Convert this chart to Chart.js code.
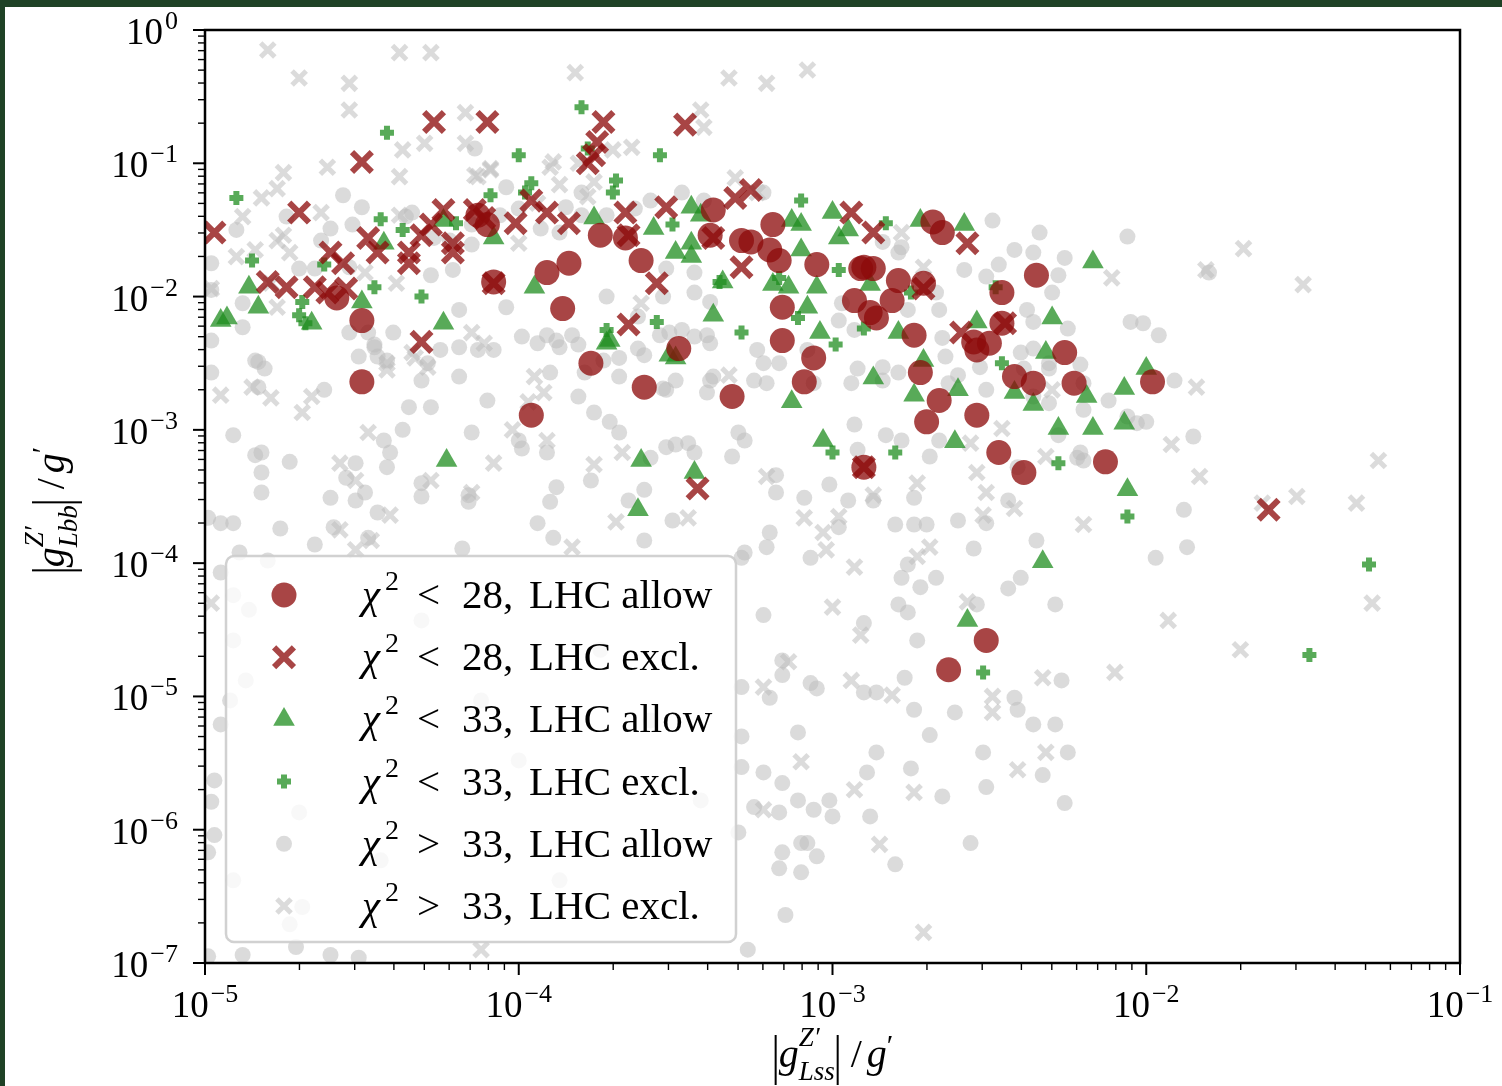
<!DOCTYPE html>
<html lang="en">
<head>
    <meta charset="UTF-8">
    <title>Scan couplings Z'</title>
    <script src="https://cdn.jsdelivr.net/npm/chart.js"></script>
    <style>
        html, body { margin: 0; padding: 0; background: #fff; }
        #contenitore { width: 1502px; height: 1086px; position: relative; }
    </style>
</head>
<body>
<div id="contenitore"><canvas id="grafico"></canvas></div>
<script>
// punti: [log10 |g_Lss|/g', log10 |g_Lbb|/g']
const chi28Allow = [
    [-4.58,-2.01],[-4.50,-2.18],[-4.50,-2.64],[-4.10,-1.46],[-4.13,-1.39],[-4.08,-1.89],[-3.91,-1.82],[-3.84,-1.75],
    [-3.86,-2.09],[-3.77,-2.50],[-3.96,-2.89],[-3.74,-1.54],[-3.66,-1.56],[-3.61,-1.73],[-3.49,-2.39],[-3.60,-2.68],
    [-3.38,-1.35],[-3.39,-1.54],[-3.29,-1.58],[-3.26,-1.59],[-3.19,-1.46],[-3.20,-1.65],[-3.17,-1.73],[-3.16,-2.08],
    [-3.16,-2.33],[-3.09,-2.64],[-3.06,-2.46],[-3.05,-1.76],[-3.32,-2.75],[-2.93,-2.03],[-2.91,-1.79],[-2.90,-1.78],
    [-2.87,-1.79],[-2.88,-2.12],[-2.86,-2.16],[-2.81,-2.03],[-2.79,-1.88],[-2.71,-1.90],[-2.68,-1.44],[-2.65,-1.52],
    [-2.74,-2.29],[-2.72,-2.57],[-2.66,-2.78],[-2.70,-2.94],[-2.90,-3.28],[-2.55,-2.34],[-2.50,-2.35],[-2.54,-2.40],
    [-2.54,-2.89],[-2.46,-1.97],[-2.46,-2.20],[-2.42,-2.60],[-2.36,-2.65],[-2.35,-1.84],[-2.26,-2.42],[-2.23,-2.65],
    [-2.47,-3.17],[-2.39,-3.32],[-2.13,-3.24],[-1.98,-2.64],[-2.63,-4.80],[-2.51,-4.58]
];
const chi28Excl = [
    [-4.97,-1.52],[-4.80,-1.89],[-4.74,-1.93],[-4.70,-1.37],[-4.65,-1.93],[-4.61,-1.97],[-4.60,-1.67],[-4.56,-1.75],
    [-4.55,-1.94],[-4.50,-0.99],[-4.48,-1.56],[-4.45,-1.67],[-4.35,-1.67],[-4.35,-1.75],[-4.31,-1.54],[-4.31,-2.34],
    [-4.28,-1.46],[-4.27,-0.69],[-4.24,-1.35],[-4.21,-1.60],[-4.21,-1.67],[-4.14,-1.35],[-4.10,-0.69],[-4.11,-1.41],
    [-4.08,-1.90],[-4.01,-1.45],[-3.96,-1.28],[-3.91,-1.37],[-3.84,-1.45],[-3.78,-1.00],[-3.76,-0.94],[-3.75,-0.84],
    [-3.73,-0.69],[-3.66,-1.37],[-3.65,-2.21],[-3.65,-1.54],[-3.56,-1.90],[-3.53,-1.33],[-3.47,-0.71],[-3.43,-3.44],
    [-3.38,-1.56],[-3.31,-1.26],[-3.29,-1.78],[-3.26,-1.20],[-2.94,-1.37],[-2.87,-1.52],[-2.90,-3.28],[-2.71,-1.94],
    [-2.59,-2.27],[-2.57,-1.60],[-2.45,-2.20],[-1.61,-3.60]
];
const chi33Allow = [
    [-4.95,-2.18],[-4.93,-2.16],[-4.86,-1.93],[-4.83,-2.08],[-4.66,-2.20],[-4.50,-2.04],[-4.43,-1.60],[-4.24,-1.43],
    [-4.24,-2.20],[-4.23,-3.23],[-4.08,-1.56],[-3.95,-1.93],[-3.76,-1.41],[-3.71,-2.33],[-3.72,-2.35],[-3.62,-3.60],
    [-3.61,-3.23],[-3.57,-1.49],[-3.52,-2.44],[-3.50,-1.67],[-3.50,-2.46],[-3.45,-1.33],[-3.42,-1.39],[-3.45,-1.60],
    [-3.45,-1.70],[-3.44,-3.32],[-3.38,-2.14],[-3.35,-1.89],[-3.19,-1.91],[-3.14,-1.93],[-3.13,-1.43],[-3.10,-1.46],
    [-3.10,-1.65],[-3.08,-2.08],[-3.05,-1.93],[-3.04,-2.27],[-3.03,-3.08],[-3.13,-2.79],[-3.00,-1.37],[-2.98,-1.56],
    [-2.95,-1.50],[-2.88,-1.91],[-2.87,-2.61],[-2.79,-2.27],[-2.74,-2.74],[-2.72,-1.43],[-2.71,-2.48],[-2.61,-3.09],
    [-2.60,-2.70],[-2.58,-1.46],[-2.54,-2.19],[-2.42,-2.72],[-2.36,-2.81],[-2.33,-3.99],[-2.32,-2.42],[-2.30,-2.16],
    [-2.28,-2.99],[-2.19,-2.75],[-2.17,-1.74],[-2.17,-2.99],[-2.07,-2.95],[-2.07,-2.69],[-2.06,-3.45],[-2.00,-2.54],
    [-2.57,-4.43]
];
const chi33Excl = [
    [-4.90,-1.26],[-4.85,-1.73],[-4.70,-2.14],[-4.69,-2.04],[-4.68,-2.20],[-4.62,-1.76],[-4.46,-1.93],[-4.44,-1.42],
    [-4.42,-0.77],[-4.37,-1.50],[-4.31,-2.00],[-4.20,-1.45],[-4.09,-1.24],[-4.00,-0.94],[-3.98,-1.22],[-3.96,-1.15],
    [-3.80,-0.58],[-3.78,-0.89],[-3.72,-2.25],[-3.70,-1.22],[-3.69,-1.13],[-3.56,-2.19],[-3.55,-0.94],[-3.51,-1.46],
    [-3.36,-1.89],[-3.29,-2.27],[-3.17,-1.86],[-3.11,-2.16],[-3.10,-1.28],[-3.00,-3.17],[-2.99,-2.36],[-2.98,-1.80],
    [-2.90,-2.24],[-2.83,-1.45],[-2.80,-3.17],[-2.75,-1.97],[-2.48,-1.93],[-2.46,-2.50],[-2.28,-3.25],[-2.06,-3.65],
    [-2.52,-4.82],[-1.29,-4.01],[-1.48,-4.69]
];
const chi33OverAllow = [
    [-4.56,-1.24],[-4.50,-1.33],[-4.14,-0.89],[-4.74,-1.40],[-4.34,-1.37],[-3.48,-1.22],[-3.22,-1.22],[-3.41,-1.28],
    [-4.04,-1.18],[-4.98,-1.75],[-4.90,-1.50],[-4.98,-1.95],[-4.88,-2.05],[-4.88,-2.23],[-4.98,-2.33],[-4.84,-2.48],
    [-4.81,-2.54],[-4.98,-2.57],[-4.83,-2.68],[-4.70,-1.79],[-4.65,-1.79],[-4.63,-1.58],[-4.54,-1.78],[-4.40,-2.27],
    [-4.51,-2.45],[-4.46,-2.38],[-4.42,-2.48],[-4.54,-2.27],[-4.28,-1.84],[-4.21,-1.80],[-4.29,-2.50],[-4.31,-2.63],
    [-4.19,-2.10],[-4.15,-1.61],[-4.19,-2.38],[-4.13,-2.40],[-4.08,-2.40],[-4.04,-2.08],[-3.99,-2.30],[-3.94,-2.35],
    [-3.88,-2.33],[-3.87,-2.38],[-3.93,-1.49],[-3.85,-1.33],[-3.80,-1.39],[-3.80,-1.22],[-4.36,-1.40],[-4.27,-1.56],
    [-4.19,-2.60],[-3.90,-2.57],[-4.83,-2.49],[-4.62,-2.70],[-4.91,-3.04],[-4.84,-3.19],[-4.82,-3.17],[-4.82,-3.32],
    [-4.73,-3.24],[-4.82,-3.47],[-4.60,-3.51],[-4.52,-3.25],[-4.55,-3.36],[-4.52,-3.53],[-4.49,-3.47],[-4.45,-3.62],
    [-4.99,-3.66],[-4.95,-3.70],[-4.91,-3.70],[-4.76,-3.74],[-4.65,-3.86],[-4.59,-3.73],[-4.48,-3.81],[-4.89,-3.92],
    [-4.80,-3.98],[-4.45,-2.45],[-4.46,-2.36],[-4.48,-2.27],[-4.43,-3.08],[-4.41,-3.17],[-4.42,-3.28],[-4.37,-3.00],
    [-4.35,-2.83],[-4.28,-2.83],[-4.25,-2.40],[-4.10,-2.78],[-4.15,-3.02],[-4.00,-3.08],[-3.99,-3.14],[-3.91,-3.17],
    [-3.88,-3.43],[-3.90,-3.54],[-3.94,-3.70],[-4.31,-3.40],[-4.31,-3.50],[-4.16,-3.49],[-4.16,-3.54],[-4.18,-3.89],
    [-3.89,-3.81],[-3.81,-2.75],[-3.79,-2.57],[-3.76,-2.87],[-3.71,-2.94],[-3.68,-3.02],[-3.60,-3.83],[-3.60,-3.45],
    [-3.77,-3.38],[-3.65,-3.53],[-3.58,-3.21],[-3.53,-3.13],[-3.50,-3.11],[-3.46,-3.10],[-3.44,-3.17],[-3.54,-2.69],
    [-3.50,-2.63],[-3.39,-2.63],[-3.40,-2.72],[-3.32,-3.20],[-3.30,-3.02],[-3.28,-3.08],[-3.51,-3.68],[-3.83,-2.29],
    [-3.81,-2.36],[-3.73,-2.48],[-3.68,-2.60],[-3.62,-2.39],[-3.60,-2.44],[-3.55,-2.29],[-3.52,-2.27],[-3.44,-2.30],
    [-3.40,-2.29],[-3.28,-3.92],[-3.91,-2.29],[-3.18,-3.34],[-3.18,-3.47],[-3.09,-3.51],[-3.01,-3.41],[-2.95,-3.53],
    [-2.87,-3.53],[-2.74,-3.51],[-2.80,-3.71],[-2.74,-3.71],[-2.70,-3.71],[-2.60,-3.68],[-2.51,-3.70],[-2.44,-3.53],
    [-2.22,-3.21],[-2.20,-3.23],[-2.35,-3.83],[-2.55,-3.89],[-3.20,-3.77],[-3.21,-3.88],[-3.29,-3.96],[-3.07,-3.96],
    [-2.98,-3.73],[-2.76,-4.01],[-2.78,-4.11],[-2.72,-4.18],[-2.67,-4.11],[-2.44,-4.19],[-2.40,-4.11],[-2.79,-4.31],
    [-2.76,-4.37],[-2.54,-4.31],[-2.29,-4.31],[-2.90,-4.45],[-2.73,-4.58],[-3.22,-4.39],[-3.16,-4.73],[-3.16,-4.84],
    [-3.07,-4.90],[-3.05,-4.94],[-3.29,-4.93],[-3.20,-5.01],[-2.90,-4.97],[-2.86,-4.97],[-2.77,-4.86],[-2.74,-5.10],
    [-2.61,-5.12],[-2.42,-5.01],[-2.41,-5.10],[-2.27,-4.88],[-2.36,-5.21],[-2.29,-5.21],[-2.25,-5.42],[-2.52,-5.42],
    [-2.33,-5.59],[-2.51,-5.68],[-2.26,-5.80],[-2.69,-5.29],[-2.86,-5.42],[-2.89,-5.57],[-2.75,-5.54],[-3.11,-5.27],
    [-3.29,-5.30],[-3.22,-5.57],[-3.16,-5.65],[-3.29,-5.53],[-2.65,-5.75],[-3.11,-5.78],[-3.01,-5.78],[-3.06,-5.85],
    [-3.00,-5.90],[-2.88,-5.90],[-3.25,-5.83],[-3.17,-5.87],[-3.30,-6.02],[-3.10,-6.10],[-3.08,-6.10],[-3.16,-6.17],
    [-3.05,-6.20],[-3.17,-6.29],[-3.10,-6.32],[-2.80,-6.26],[-2.56,-6.10],[-3.15,-6.64],[-3.27,-6.90],[-2.06,-1.55],
    [-2.26,-1.71],[-2.28,-1.84],[-2.30,-1.97],[-2.25,-2.24],[-2.05,-2.19],[-2.01,-2.20],[-1.96,-2.29],[-1.80,-1.82],
    [-2.21,-2.51],[-1.91,-2.63],[-2.12,-2.78],[-2.20,-2.85],[-2.00,-2.94],[-2.06,-2.90],[-1.85,-3.05],[-1.88,-3.60],
    [-1.87,-3.88],[-1.97,-3.96],[-3.72,-1.39],[-3.72,-2.00],[-3.44,-1.82],[-3.44,-1.97],[-3.54,-2.00],[-3.53,-1.79],
    [-3.39,-2.04],[-3.62,-2.15],[-3.48,-2.25],[-3.39,-2.35],[-3.68,-2.46],[-3.38,-2.60],[-3.53,-2.70],[-3.24,-2.40],
    [-3.22,-2.50],[-3.17,-2.50],[-3.08,-2.40],[-2.98,-2.18],[-2.97,-2.05],[-2.93,-2.25],[-2.84,-2.53],[-2.79,-2.57],
    [-2.78,-1.63],[-2.84,-1.59],[-2.67,-1.97],[-2.66,-2.10],[-2.49,-1.43],[-2.58,-1.80],[-2.51,-1.85],[-2.42,-1.65],
    [-2.36,-1.67],[-2.34,-1.52],[-2.47,-1.76],[-2.38,-2.10],[-2.36,-2.19],[-2.36,-2.39],[-2.31,-2.54],[-2.39,-2.54],
    [-2.53,-2.53],[-2.64,-2.45],[-2.63,-2.65],[-2.51,-2.70],[-3.25,-2.63],[-3.21,-2.65],[-3.06,-2.65],[-2.94,-2.65],
    [-2.84,-2.63],[-2.79,-1.67],[-2.65,-2.31],[-2.76,-2.10],[-2.92,-2.54],[-2.60,-2.59],[-2.40,-2.42],[-2.31,-2.50],
    [-2.20,-2.65],[-2.31,-2.80],[-2.21,-3.17],[-2.03,-2.95],[-2.36,-2.75],[-2.28,-3.04],[-2.41,-3.28],[-2.66,-3.08],
    [-2.69,-3.20],[-2.93,-2.96],[-2.83,-3.04],[-2.78,-3.08],[-2.92,-3.15],[-4.95,-4.07],[-4.91,-4.24],[-4.86,-4.35],
    [-4.91,-4.58],[-4.87,-4.88],[-4.92,-5.03],[-4.95,-5.21],[-4.97,-5.63],[-4.98,-5.79],[-4.97,-6.04],[-4.99,-6.17],
    [-4.91,-6.38],[-4.70,-5.87],[-4.31,-4.43],[-4.12,-5.03],[-4.00,-5.48],[-3.74,-4.65],[-3.58,-5.18],[-3.42,-5.78],
    [-3.87,-6.38],[-4.44,-6.23],[-4.99,-6.95],[-4.88,-6.94],[-4.71,-6.88],[-4.60,-6.94],[-4.51,-6.96],[-4.73,-6.71],
    [-4.69,-6.58],[-4.00,-1.34],[-4.06,-1.39],[-4.15,-1.46],[-3.87,-1.52],[-4.22,-1.58],[-3.63,-1.34],[-3.58,-1.28],
    [-4.60,-1.49],[-4.53,-1.46]
];
const chi33OverExcl = [
    [-4.80,-0.15],[-4.70,-0.36],[-4.38,-0.17],[-4.28,-0.17],[-4.54,-0.40],[-4.54,-0.60],[-3.82,-0.32],[-3.33,-0.36],
    [-3.21,-0.40],[-3.08,-0.30],[-3.42,-0.60],[-3.41,-0.73],[-4.17,-0.62],[-4.30,-0.85],[-4.37,-0.90],[-4.17,-0.85],
    [-4.09,-1.04],[-4.14,-1.09],[-4.38,-1.10],[-4.61,-1.03],[-4.75,-1.07],[-4.77,-1.19],[-4.82,-1.26],[-4.88,-1.40],
    [-4.63,-1.37],[-3.70,-0.90],[-3.64,-0.88],[-3.89,-0.99],[-3.90,-1.03],[-3.87,-1.16],[-3.31,-1.11],[-3.24,-1.22],
    [-3.81,-1.00],[-4.77,-1.58],[-4.75,-1.54],[-4.73,-1.67],[-4.84,-1.65],[-4.90,-1.70],[-4.98,-1.94],[-4.79,-1.90],
    [-4.77,-2.08],[-4.38,-1.39],[-4.39,-1.90],[-4.49,-1.82],[-3.94,-1.30],[-4.13,-1.10],[-4.09,-1.05],[-3.76,-1.14],
    [-3.78,-1.25],[-4.00,-1.60],[-4.15,-2.27],[-4.11,-2.35],[-4.34,-2.42],[-4.42,-2.50],[-3.95,-2.60],[-3.92,-2.72],
    [-4.95,-2.74],[-4.79,-2.76],[-4.66,-2.75],[-4.69,-2.87],[-4.85,-2.68],[-4.42,-2.55],[-4.33,-2.46],[-4.29,-2.53],
    [-4.48,-3.02],[-4.57,-3.25],[-4.52,-3.38],[-4.41,-3.64],[-4.57,-3.75],[-4.47,-3.83],[-4.52,-3.90],[-4.28,-3.38],
    [-4.15,-3.47],[-3.97,-2.79],[-4.02,-3.00],[-3.91,-3.08],[-4.08,-3.25],[-3.76,-3.26],[-3.67,-3.17],[-3.69,-3.69],
    [-3.46,-3.66],[-3.83,-3.88],[-3.33,-2.59],[-3.21,-3.35],[-3.09,-3.66],[-2.98,-3.65],[-3.03,-3.77],[-3.02,-3.90],
    [-2.93,-4.03],[-2.73,-3.40],[-2.87,-3.49],[-2.69,-3.88],[-2.73,-3.95],[-2.54,-3.32],[-2.51,-3.47],[-2.52,-3.64],
    [-2.42,-3.59],[-2.20,-3.71],[-2.57,-4.29],[-3.00,-4.33],[-2.91,-4.54],[-3.14,-4.74],[-3.22,-4.93],[-2.94,-4.88],
    [-2.81,-4.99],[-2.33,-4.86],[-2.10,-4.82],[-2.49,-5.00],[-2.49,-5.12],[-3.10,-5.49],[-2.93,-5.70],[-2.74,-5.72],
    [-2.32,-5.42],[-2.41,-5.55],[-3.22,-5.85],[-2.85,-6.11],[-2.71,-6.77],[-1.69,-1.64],[-1.81,-1.80],[-1.50,-1.91],
    [-2.11,-1.86],[-1.84,-2.68],[-1.92,-3.11],[-1.83,-3.35],[-1.63,-3.55],[-1.52,-3.50],[-1.33,-3.55],[-1.26,-3.23],
    [-1.28,-4.30],[-1.93,-4.43],[-1.70,-4.65],[-2.30,-2.70],[-4.98,-4.30],[-4.12,-6.90],[-2.78,-1.52],[-2.71,-1.78],
    [-2.46,-2.99],[-2.56,-3.10],[-2.32,-3.20],[-3.61,-2.05]
];

// decadi degli assi
const xDecadi = [-5, -4, -3, -2, -1];
const yDecadi = [0, -1, -2, -3, -4, -5, -6, -7];

// legenda: chi^2 <relazione> <soglia>, <stato LHC>
const legendaRel = ['<', '<', '<', '<', '>', '>'];
const legendaSoglia = ['28,', '28,', '33,', '33,', '33,', '33,'];
const legendaLHC = ['LHC allow', 'LHC excl.', 'LHC allow', 'LHC excl.', 'LHC allow', 'LHC excl.'];

const SERIF = '"Liberation Serif", "Times New Roman", serif';
const ROSSO = 'rgba(140,10,10,0.76)';
const VERDE = 'rgba(30,140,30,0.74)';
const GRIGIO = 'rgba(190,190,190,0.55)';

const stili = [
    { colore: ROSSO, forma: 'circle', r: 12.5, bw: 0 },
    { colore: ROSSO, forma: 'crossRot', r: 14, bw: 6 },
    { colore: VERDE, forma: 'triangle', r: 12.5, bw: 0 },
    { colore: VERDE, forma: 'cross', r: 7, bw: 6 },
    { colore: GRIGIO, forma: 'circle', r: 8, bw: 0 },
    { colore: GRIGIO, forma: 'crossRot', r: 10, bw: 5 }
];

const serie = [chi28Allow, chi28Excl, chi33Allow, chi33Excl, chi33OverAllow, chi33OverExcl];

const datasets = serie.map((pts, i) => {
    const s = stili[i];
    return {
        label: legendaRel[i] + ' ' + legendaSoglia[i] + ' ' + legendaLHC[i],
        data: pts.map(p => ({ x: Math.pow(10, p[0]), y: Math.pow(10, p[1]) })),
        pointStyle: s.forma,
        pointRadius: s.r,
        pointBackgroundColor: s.bw ? 'rgba(0,0,0,0)' : s.colore,
        pointBorderColor: s.colore,
        pointBorderWidth: s.bw,
        showLine: false
    };
});

function disegnaSegno(ctx, s, x, y) {
    ctx.save();
    ctx.fillStyle = s.colore;
    ctx.strokeStyle = s.colore;
    ctx.lineWidth = s.bw;
    ctx.beginPath();
    const d = s.r * Math.SQRT1_2;
    if (s.forma === 'circle') {
        ctx.arc(x, y, s.r, 0, Math.PI * 2);
        ctx.fill();
    } else if (s.forma === 'triangle') {
        ctx.moveTo(x, y - s.r);
        ctx.lineTo(x + s.r * 0.866, y + s.r * 0.5);
        ctx.lineTo(x - s.r * 0.866, y + s.r * 0.5);
        ctx.closePath();
        ctx.fill();
    } else if (s.forma === 'cross') {
        ctx.moveTo(x, y - s.r); ctx.lineTo(x, y + s.r);
        ctx.moveTo(x - s.r, y); ctx.lineTo(x + s.r, y);
        ctx.stroke();
    } else {
        ctx.moveTo(x - d, y - d); ctx.lineTo(x + d, y + d);
        ctx.moveTo(x + d, y - d); ctx.lineTo(x - d, y + d);
        ctx.stroke();
    }
    ctx.restore();
}

// scrive 10^esp
function potenza(ctx, esp, x, y, centrato) {
    const base = '10';
    const sup = esp === 0 ? '0' : '\u2212' + Math.abs(esp);
    ctx.font = '37px ' + SERIF;
    const wb = ctx.measureText(base).width;
    ctx.font = '26px ' + SERIF;
    const ws = ctx.measureText(sup).width;
    const tot = wb + 2 + ws;
    const x0 = centrato ? x - tot / 2 : x - tot;
    ctx.font = '37px ' + SERIF;
    ctx.fillText(base, x0, y);
    ctx.font = '26px ' + SERIF;
    ctx.fillText(sup, x0 + wb + 2, y - 15);
}

// formula tipo |g^{Z'}_{L..}| / g'
function formula(pedice) {
    const it = 'italic 40px ' + SERIF;
    const itp = 'italic 27px ' + SERIF;
    return [
        { barra: true },
        { t: 'g', f: it },
        { t: 'Z\u2032', f: itp, dy: -21, pila: true },
        { t: pedice, f: itp, dy: 13 },
        { barra: true, gap: 10 },
        { t: '/', f: '40px ' + SERIF, gap: 5 },
        { t: 'g', f: it },
        { t: '\u2032', f: '30px ' + SERIF, dy: -12 }
    ];
}

function larghezza(ctx, parti) {
    let w = 0, pila = 0;
    for (const p of parti) {
        if (p.barra) { w += 6 + (p.gap || 0); continue; }
        ctx.font = p.f;
        const m = ctx.measureText(p.t).width;
        if (p.pila) { pila = m; continue; }
        w += Math.max(m, pila) + (p.gap || 0);
        pila = 0;
    }
    return w;
}

function scriviFormula(ctx, parti, cx, y) {
    let x = cx - larghezza(ctx, parti) / 2;
    let pila = 0;
    for (const p of parti) {
        if (p.barra) {
            ctx.fillRect(x + 2, y - 32, 2, 50);
            x += 6 + (p.gap || 0);
            continue;
        }
        ctx.font = p.f;
        const m = ctx.measureText(p.t).width;
        ctx.fillText(p.t, x, y + (p.dy || 0));
        if (p.pila) { pila = m; continue; }
        x += Math.max(m, pila) + (p.gap || 0);
        pila = 0;
    }
}

const decorazioni = {
    id: 'decorazioni',
    beforeDraw(chart) {
        const ctx = chart.ctx;
        ctx.save();
        ctx.fillStyle = '#ffffff';
        ctx.fillRect(0, 0, chart.width, chart.height);
        ctx.fillStyle = '#1f4226';
        ctx.fillRect(0, 0, chart.width, 7);
        ctx.fillRect(0, 0, 5, chart.height);
        ctx.restore();
    },
    afterDatasetsDraw(chart) {
        const ctx = chart.ctx;
        ctx.save();
        // riquadro legenda
        const bx = 226, by = 556, bw = 510, bh = 386, rr = 8;
        ctx.beginPath();
        ctx.moveTo(bx + rr, by);
        ctx.arcTo(bx + bw, by, bx + bw, by + bh, rr);
        ctx.arcTo(bx + bw, by + bh, bx, by + bh, rr);
        ctx.arcTo(bx, by + bh, bx, by, rr);
        ctx.arcTo(bx, by, bx + bw, by, rr);
        ctx.closePath();
        ctx.fillStyle = 'rgba(255,255,255,0.8)';
        ctx.fill();
        ctx.strokeStyle = 'rgba(204,204,204,0.9)';
        ctx.lineWidth = 2.5;
        ctx.stroke();
        ctx.fillStyle = '#000';
        ctx.textBaseline = 'alphabetic';
        ctx.textAlign = 'left';
        for (let i = 0; i < 6; i++) {
            const y = 595 + i * 62.2;
            disegnaSegno(ctx, stili[i], 284, y);
            const base = y + 13;
            ctx.font = 'italic 41px ' + SERIF;
            ctx.fillText('\u03c7', 362, base);
            ctx.font = '28px ' + SERIF;
            ctx.fillText('2', 385, base - 18);
            ctx.font = '41px ' + SERIF;
            ctx.fillText(legendaRel[i], 417, base);
            ctx.fillText(legendaSoglia[i], 462, base);
            ctx.fillText(legendaLHC[i], 529, base);
        }
        ctx.restore();
    },
    afterDraw(chart) {
        const ctx = chart.ctx;
        const a = chart.chartArea;
        const sx = chart.scales.x, sy = chart.scales.y;
        ctx.save();
        ctx.strokeStyle = '#000';
        ctx.fillStyle = '#000';
        // tacche asse x
        xDecadi.forEach(d => {
            const px = sx.getPixelForValue(Math.pow(10, d));
            ctx.lineWidth = 2;
            ctx.beginPath(); ctx.moveTo(px, a.bottom); ctx.lineTo(px, a.bottom + 12); ctx.stroke();
            if (d < -1) {
                ctx.lineWidth = 1.4;
                for (let m = 2; m <= 9; m++) {
                    const q = sx.getPixelForValue(m * Math.pow(10, d));
                    ctx.beginPath(); ctx.moveTo(q, a.bottom); ctx.lineTo(q, a.bottom + 7); ctx.stroke();
                }
            }
            potenza(ctx, d, px, 1017, true);
        });
        // tacche asse y
        yDecadi.forEach(d => {
            const py = sy.getPixelForValue(Math.pow(10, d));
            ctx.lineWidth = 2;
            ctx.beginPath(); ctx.moveTo(a.left, py); ctx.lineTo(a.left - 12, py); ctx.stroke();
            if (d < 0) {
                ctx.lineWidth = 1.4;
                for (let m = 2; m <= 9; m++) {
                    const q = sy.getPixelForValue(m * Math.pow(10, d));
                    ctx.beginPath(); ctx.moveTo(a.left, q); ctx.lineTo(a.left - 7, q); ctx.stroke();
                }
            }
            potenza(ctx, d, 178, py + 14, false);
        });
        // cornice
        ctx.lineWidth = 2.5;
        ctx.strokeRect(a.left, a.top, a.right - a.left, a.bottom - a.top);
        // titoli assi
        scriviFormula(ctx, formula('Lss'), 833, 1067);
        ctx.translate(64, 510);
        ctx.rotate(-Math.PI / 2);
        scriviFormula(ctx, formula('Lbb'), 0, 0);
        ctx.restore();
    }
};

const grafico = new Chart(document.getElementById('grafico').getContext('2d'), {
    type: 'scatter',
    data: { datasets: datasets },
    options: {
        responsive: true,
        maintainAspectRatio: false,
        animation: false,
        events: [],
        layout: { padding: { top: 30, right: 42, left: 0, bottom: 0 } },
        plugins: { legend: { display: false }, tooltip: { enabled: false } },
        scales: {
            x: {
                type: 'logarithmic', min: 1e-5, max: 1e-1,
                grid: { display: false }, border: { display: false }, ticks: { display: false },
                afterFit(s) { s.height = 123; }
            },
            y: {
                type: 'logarithmic', min: 1e-7, max: 1,
                grid: { display: false }, border: { display: false }, ticks: { display: false },
                afterFit(s) { s.width = 205; }
            }
        }
    },
    plugins: [decorazioni]
});
</script>
</body>
</html>
